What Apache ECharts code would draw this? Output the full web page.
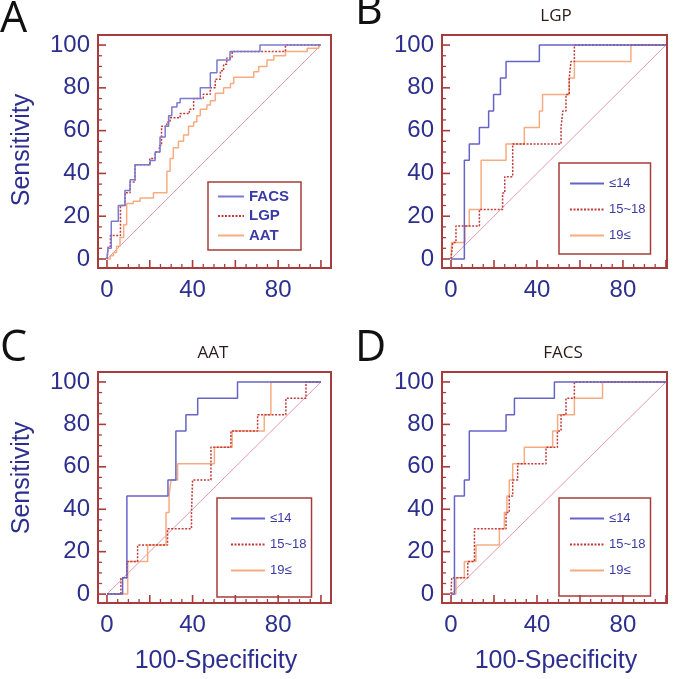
<!DOCTYPE html>
<html><head><meta charset="utf-8">
<script src="https://cdn.jsdelivr.net/npm/echarts@6/dist/echarts.min.js"></script>
<style>html,body{margin:0;padding:0;background:#fff}#c{width:676px;height:679px}</style>
</head><body><div id="c"></div>
<script>
// ---- labels / ticks ----
const panelLetters = ['A', 'B', 'C', 'D'];
const panelTitles = ['', 'LGP', 'AAT', 'FACS'];
const namesA = ['FACS', 'LGP', 'AAT'];
const namesAge = ['≤14', '15~18', '19≤'];
const xLabelValues = [0, 40, 80];
const yLabelValues = [0, 20, 40, 60, 80, 100];
const majorTicks = [0, 20, 40, 60, 80, 100];
const minorTicks = [0, 5, 10, 15, 20, 25, 30, 35, 40, 45, 50, 55, 60, 65, 70, 75, 80, 85, 90, 95, 100];
const yTitle = 'Sensitivity';
const xTitle = '100-Specificity';
const diagonal = [[0, 0], [100, 100]];

// ---- ROC steps: [x, y] = at x the curve steps up to y ----
// Panel A
const stepsA_FACS = [[0,0],[0.5,5],[2,17.6],[5.3,25],[8.4,32],[10.8,37],[13.1,44],[20.2,46],[22.5,50],[24.8,57],[27.2,62],[28.8,67],[30.3,71],[32.7,73],[34.2,75],[43.6,80],[48.3,87],[51.4,93],[57.5,97],[71.5,100],[100,100]];
const stepsA_LGP = [[0,0],[0.6,6],[1.6,11],[6.3,25],[8.5,31],[10.8,36],[13.1,44],[20,47],[22.5,50],[24.5,53],[25.5,62],[28,64],[29.5,66],[34.2,68],[38.5,70],[40.5,75],[45,77],[48.3,80],[50.6,84],[53,88],[54.5,91],[56,94],[58.5,97],[83.4,100],[100,100]];
const stepsA_AAT = [[0,0],[1.5,1.5],[3,3],[4.5,6],[6.1,10],[7.8,16],[9.2,26],[12.3,27],[15.5,28.5],[21.7,31],[28,41],[29.5,47],[31,52],[33.4,55],[35.8,58],[38.1,62],[40.5,64],[42,67],[43.6,70],[46.7,72],[48.3,74],[50.6,77.5],[54.5,80],[57.7,82],[59.2,85],[68.6,87.5],[70.9,90],[74.8,93],[78,95],[83.4,97],[93.6,98.5],[99,100],[100,100]];
// Panel B (LGP)
const stepsB_14 = [[0,0],[6.2,46.2],[8.5,53.8],[13.2,61.5],[17.5,69.2],[19.8,76.9],[23,84.6],[25.6,92.3],[41.1,100],[100,100]];
const stepsB_15 = [[0,0],[0.8,7.7],[2.3,15.4],[13.2,23.1],[24,30.8],[25,38.5],[28.7,53.8],[51.2,61.5],[52,69.2],[53.5,76.9],[55,84.6],[55.8,92.3],[57.4,100],[100,100]];
const stepsB_19 = [[0,0],[0.3,7.7],[6.5,15.4],[8.5,23.1],[14,46.2],[25.6,53.8],[34.1,61.5],[41.1,69.2],[42.6,76.9],[55,84.6],[57.4,92.3],[83.7,100],[100,100]];
// Panel C (AAT)
const stepsC_14 = [[0,0],[7.3,7.7],[9.3,46.2],[28.5,53.8],[32.2,76.9],[36.9,84.6],[42.4,92.3],[61,100],[100,100]];
const stepsC_15 = [[0,0],[6.5,7.7],[9.3,15.4],[14.3,23.1],[28.3,30.8],[39.5,38.5],[40,53.8],[48.6,69.2],[57.9,76.9],[70.4,84.6],[83.6,92.3],[93,100],[100,100]];
const stepsC_19 = [[0,0],[9.7,15.4],[19,23.1],[27.6,38.5],[29,46.2],[29.9,53.8],[33,61.5],[50.2,69.2],[58.5,76.9],[73.5,84.6],[76.6,100],[100,100]];
// Panel D (FACS)
const stepsD_14 = [[0,0],[1.6,46.2],[6.2,53.8],[8.5,76.9],[25.6,84.6],[29.5,92.3],[48.1,100],[100,100]];
const stepsD_15 = [[0,0],[0.3,7.7],[7.8,15.4],[10.9,30.8],[25.6,38.5],[27.1,46.2],[28.7,53.8],[31,61.5],[44.2,69.2],[49.5,76.9],[51.2,84.6],[53.5,92.3],[57.4,100],[100,100]];
const stepsD_19 = [[0,0],[2.3,7.7],[6.2,15.4],[11.6,23.1],[22.5,30.8],[24.8,38.5],[26,46.2],[27.1,53.8],[28.7,61.5],[34.1,69.2],[47.3,76.9],[49.6,84.6],[57.4,92.3],[70.5,100],[100,100]];

// ---- styling ----
const FRAME = '#a83c3c';
const NAVY = '#2d2f8e';
const FONT = '"Liberation Sans", Arial, sans-serif';
const C_BLUE = '#6464c8', C_BLUE_A = '#7a7ad2', C_RED = '#c23a3a', C_ORANGE = '#f7ac80', C_DIAG = '#e596ae';

function stepPath(steps) {
  const out = [steps[0]];
  for (let i = 1; i < steps.length; i++) {
    out.push([steps[i][0], steps[i - 1][1]]);
    out.push(steps[i]);
  }
  return out;
}

const grids = [
  { left: 98, top: 35, width: 233, height: 233 },
  { left: 442, top: 35, width: 225, height: 233 },
  { left: 98, top: 372, width: 233, height: 231 },
  { left: 442, top: 372, width: 225, height: 231 }
];
const xRange = [[-4.2, 104.7], [-4.2, 100.5], [-4.2, 104.7], [-4.2, 100.5]];
const yRange = [-4.2, 104.7];

const xAxis = [], yAxis = [];
grids.forEach((g, i) => {
  xAxis.push({
    gridIndex: i, type: 'value', min: xRange[i][0], max: xRange[i][1], position: 'bottom',
    axisLine: { show: false, onZero: false }, splitLine: { show: false }, axisTick: { show: false },
    axisLabel: { customValues: xLabelValues, margin: 10, color: NAVY, fontSize: 24, fontFamily: FONT }
  });
  yAxis.push({
    gridIndex: i, type: 'value', min: yRange[0], max: yRange[1], position: 'left',
    axisLine: { show: false, onZero: false }, splitLine: { show: false }, axisTick: { show: false },
    axisLabel: { customValues: yLabelValues, margin: 8, color: NAVY, fontSize: 24, fontFamily: FONT }
  });
});

// inward tick marks along the bottom and left frame edges, placed through the axis scales
function tickSeries(g) {
  return {
    type: 'custom', coordinateSystem: 'cartesian2d', xAxisIndex: g, yAxisIndex: g,
    silent: true, clip: false, z: 4,
    data: minorTicks.map(v => [v, v]),
    renderItem: function (params, api) {
      const v = api.value(0);
      const len = majorTicks.indexOf(v) >= 0 ? 8 : 4;
      const w = majorTicks.indexOf(v) >= 0 ? 1.6 : 1.3;
      const pb = api.coord([v, yRange[0]]);
      const pl = api.coord([xRange[g][0], v]);
      const st = { stroke: FRAME, lineWidth: w, fill: null };
      return {
        type: 'group',
        children: [
          { type: 'line', shape: { x1: pb[0], y1: pb[1], x2: pb[0], y2: pb[1] - len }, style: st },
          { type: 'line', shape: { x1: pl[0], y1: pl[1], x2: pl[0] + len, y2: pl[1] }, style: st }
        ]
      };
    }
  };
}

function lineSeries(name, g, steps, color, dashed) {
  return {
    name, type: 'line', xAxisIndex: g, yAxisIndex: g,
    data: stepPath(steps), symbol: 'none', silent: true,
    lineStyle: { color, width: 1.5, type: dashed ? [2, 1.5] : 'solid' },
    itemStyle: { color }
  };
}
function diagSeries(g) {
  return { name: 'ref' + g, type: 'line', xAxisIndex: g, yAxisIndex: g, data: diagonal.map(p => p.slice()), symbol: 'none',
    silent: true, lineStyle: { color: C_DIAG, width: 1 }, itemStyle: { color: C_DIAG } };
}

const series = [
  diagSeries(0),
  lineSeries(namesA[2], 0, stepsA_AAT, C_ORANGE, false),
  lineSeries(namesA[1], 0, stepsA_LGP, C_RED, true),
  lineSeries(namesA[0], 0, stepsA_FACS, C_BLUE_A, false),
  diagSeries(1),
  lineSeries(namesAge[2], 1, stepsB_19, C_ORANGE, false),
  lineSeries(namesAge[1], 1, stepsB_15, C_RED, true),
  lineSeries(namesAge[0], 1, stepsB_14, C_BLUE, false),
  diagSeries(2),
  lineSeries(namesAge[2], 2, stepsC_19, C_ORANGE, false),
  lineSeries(namesAge[1], 2, stepsC_15, C_RED, true),
  lineSeries(namesAge[0], 2, stepsC_14, C_BLUE, false),
  diagSeries(3),
  lineSeries(namesAge[2], 3, stepsD_19, C_ORANGE, false),
  lineSeries(namesAge[1], 3, stepsD_15, C_RED, true),
  lineSeries(namesAge[0], 3, stepsD_14, C_BLUE, false),
  tickSeries(0), tickSeries(1), tickSeries(2), tickSeries(3)
];

function legendBox(data, left, top, padding, gap, itemWidth, fontSize, bold, textWidth) {
  return {
    data, left, top, orient: 'vertical', selectedMode: false,
    borderColor: FRAME, borderWidth: 1.5, padding, itemGap: gap,
    itemWidth, itemHeight: 14,
    itemStyle: { opacity: 0, borderWidth: 0 },
    textStyle: { color: '#3b3ba6', fontSize, fontWeight: bold ? 'bold' : 'normal', fontFamily: FONT, width: textWidth }
  };
}
const legend = [
  legendBox(namesA, 208, 182, [7, 12, 7, 9], 4.5, 26, 15, true, 55),
  legendBox(namesAge, 559, 163, [14, 5, 12, 10], 13, 34, 13, false, 46),
  legendBox(namesAge, 217, 498, [14, 5, 20, 13], 13, 34, 13, false, 46),
  legendBox(namesAge, 559, 498, [14, 5, 19, 10], 13, 34, 13, false, 46)
];

const letterPos = [[0, 20], [355, 12], [0, 349], [355, 349]];
const titlePos = [[0, 0], [556, 16], [213, 353], [563, 353]];
const graphic = [];
panelLetters.forEach((t, i) => {
  graphic.push({ type: 'text', x: letterPos[i][0], y: letterPos[i][1], silent: true,
    style: { text: t, fill: '#111', font: '43px "Open Sans", "Noto Sans", sans-serif', textAlign: 'left', textVerticalAlign: 'middle', verticalAlign: 'middle' } });
});
panelTitles.forEach((t, i) => {
  if (!t) return;
  graphic.push({ type: 'text', x: titlePos[i][0], y: titlePos[i][1], silent: true,
    style: { text: t, fill: '#2a1a1a', font: '17px "Open Sans", "Noto Sans", sans-serif', textAlign: 'center', textVerticalAlign: 'middle', verticalAlign: 'middle' } });
});
// axis titles
[[22, 150], [22, 478]].forEach(p => {
  graphic.push({ type: 'text', x: p[0], y: p[1], rotation: Math.PI / 2, silent: true,
    style: { text: yTitle, fill: NAVY, font: '25px "Liberation Sans", Arial, sans-serif', textAlign: 'center', textVerticalAlign: 'middle', verticalAlign: 'middle' } });
});
[[216, 661], [556, 661]].forEach(p => {
  graphic.push({ type: 'text', x: p[0], y: p[1], silent: true,
    style: { text: xTitle, fill: NAVY, font: '25px "Liberation Sans", Arial, sans-serif', textAlign: 'center', textVerticalAlign: 'middle', verticalAlign: 'middle' } });
});

const chart = echarts.init(document.getElementById('c'));
chart.setOption({
  animation: false,
  grid: grids.map(g => Object.assign({ show: true, borderColor: FRAME, borderWidth: 2 }, g)),
  xAxis, yAxis, series, legend, graphic
});
</script></body></html>
